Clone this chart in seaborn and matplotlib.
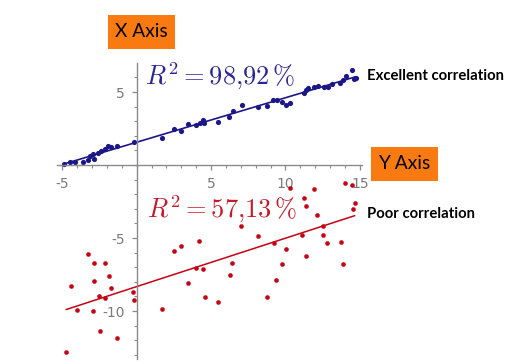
import numpy as np
import pandas as pd
import matplotlib
matplotlib.use("Agg")
import matplotlib.pyplot as plt
from matplotlib.ticker import FixedLocator, MultipleLocator
from matplotlib.patches import Rectangle
import seaborn as sns

# ---- data ----
blue_x = [-4.88, -4.48, -4.12, -3.6, -3.3, -3.12, -2.95, -2.88, -2.6, -2.37, -2.15, -1.94,
          -1.76, -1.3, -0.18, 1.72, 2.53, 2.98, 3.47, 3.99, 4.26, 4.44, 4.53, 5.49, 6.23,
          6.45, 7.06, 8.18, 8.78, 9.19, 9.41, 9.8, 10.06, 10.33, 11.22, 11.38, 11.5, 11.95,
          12.2, 12.6, 12.88, 13.1, 13.7, 13.9, 14.05, 14.46, 14.58, 14.74]
blue_y = [0.04, 0.22, 0.2, 0.24, 0.34, 0.6, 0.75, 0.4, 0.85, 0.93, 1.1, 1.3,
          1.25, 1.33, 1.6, 1.88, 2.47, 2.33, 2.79, 2.74, 2.86, 3.08, 2.9, 2.97, 3.31,
          3.72, 4.11, 3.95, 4.04, 4.45, 4.45, 4.32, 4.11, 4.24, 4.95, 5.14, 5.25, 5.36,
          5.43, 5.36, 5.36, 5.55, 5.59, 5.82, 6.1, 6.52, 5.9, 5.94]

red_x = [-4.75, -4.44, -4.04, -3.30, -2.85, -2.89, -2.96, -2.51, -2.47, -2.11, -2.11, -1.86,
         -1.71, -1.30, -0.23, -0.18, 1.72, 2.53, 3.00, 3.47, 3.97, 4.21, 4.46, 4.57, 5.49,
         6.25, 6.41, 7.04, 8.16, 8.79, 9.21, 9.35, 9.75, 10.04, 10.33, 11.14, 11.23, 11.39,
         11.41, 11.92, 12.10, 12.55, 12.55, 12.82, 13.72, 13.90, 14.01, 14.46, 14.55, 14.66]
red_y = [-12.83, -8.27, -9.95, -6.10, -6.71, -7.95, -10.02, -8.97, -11.39, -6.71, -9.11, -7.60,
         -8.40, -11.87, -8.70, -9.22, -9.84, -5.87, -5.52, -8.06, -7.03, -5.23, -7.10, -9.04, -9.36,
         -7.53, -6.74, -4.15, -4.84, -9.06, -5.34, -7.90, -6.76, -5.75, -1.58, -4.79, -2.28, -2.81,
         -6.23, -1.67, -3.45, -4.15, -4.82, -5.32, -5.27, -6.80, -1.21, -1.37, -2.99, -2.58]

x_ticks = [-5, 5, 10, 15]
y_ticks = [-10, -5, 5]
labels_r2 = [r"$R^2 = 98{,}92\,\%$", r"$R^2 = 57{,}13\,\%$"]
box_labels = ["X Axis", "Y Axis"]
side_labels = ["Excellent correlation", "Poor correlation"]

blue_df = pd.DataFrame({"x": blue_x, "y": blue_y})
red_df = pd.DataFrame({"x": red_x, "y": red_y})

sns.set_style("white")
plt.rcParams["axes.unicode_minus"] = False
plt.rcParams["mathtext.fontset"] = "cm"
plt.rcParams["font.family"] = ["DejaVu Sans"]

BLUE = "#1c1786"
RED = "#c80012"
GRAY = "#8a8a8a"

fig = plt.figure(figsize=(5.17, 3.64), dpi=100)
ax = fig.add_axes([0.1097, 0.0151, 0.5905, 0.811])

sns.regplot(data=blue_df, x="x", y="y", ax=ax, ci=None, color=BLUE,
            scatter_kws={"s": 14, "linewidths": 0, "alpha": 1},
            line_kws={"lw": 1.2})
sns.regplot(data=red_df, x="x", y="y", ax=ax, ci=None, color=RED,
            scatter_kws={"s": 11, "linewidths": 0, "alpha": 1},
            line_kws={"lw": 1.1})

ax.set_xlim(-5.38, 15.15)
ax.set_ylim(-13.25, 6.97)
ax.set_xlabel("")
ax.set_ylabel("")

for s in ["top", "right"]:
    ax.spines[s].set_visible(False)
ax.spines["left"].set_position(("data", 0))
ax.spines["bottom"].set_position(("data", 0))
for s in ["left", "bottom"]:
    ax.spines[s].set_color(GRAY)
    ax.spines[s].set_linewidth(1.0)

ax.xaxis.set_major_locator(FixedLocator(x_ticks))
ax.yaxis.set_major_locator(FixedLocator(y_ticks))
ax.xaxis.set_minor_locator(MultipleLocator(1))
ax.yaxis.set_minor_locator(MultipleLocator(1))
ax.tick_params(which="major", direction="out", length=3.5, width=0.9, color=GRAY,
               labelcolor="#7a7a7a", labelsize=10, pad=5,
               bottom=True, left=True)
ax.tick_params(which="minor", direction="out", length=2, width=0.8, color=GRAY,
               bottom=True, left=True)

ax.text(0.56, 5.48, labels_r2[0], color="#2a2596", fontsize=19, va="baseline", ha="left")
ax.text(0.67, -3.63, labels_r2[1], color="#c41a2a", fontsize=19, va="baseline", ha="left")

ORANGE = "#fa7a12"
fig.patches.append(Rectangle((0.2095, 0.8654), 0.129, 0.0934, transform=fig.transFigure,
                             facecolor=ORANGE, edgecolor="none"))
fig.patches.append(Rectangle((0.717, 0.5036), 0.1296, 0.0934, transform=fig.transFigure,
                             facecolor=ORANGE, edgecolor="none"))
fig.text(0.2095 + 0.129 / 2, 0.8654 + 0.0934 / 2, box_labels[0], ha="center", va="center",
         fontsize=13.8, family="Lato", color="black")
fig.text(0.717 + 0.1296 / 2, 0.5036 + 0.0934 / 2, box_labels[1], ha="center", va="center",
         fontsize=13.8, family="Lato", color="black")
fig.text(0.7104, 0.792, side_labels[0], ha="left", va="center", fontsize=10.7,
         family="Lato", weight="bold", color="black")
fig.text(0.7104, 0.412, side_labels[1], ha="left", va="center", fontsize=10.7,
         family="Lato", weight="bold", color="black")

fig.savefig("out.png", dpi=100)
